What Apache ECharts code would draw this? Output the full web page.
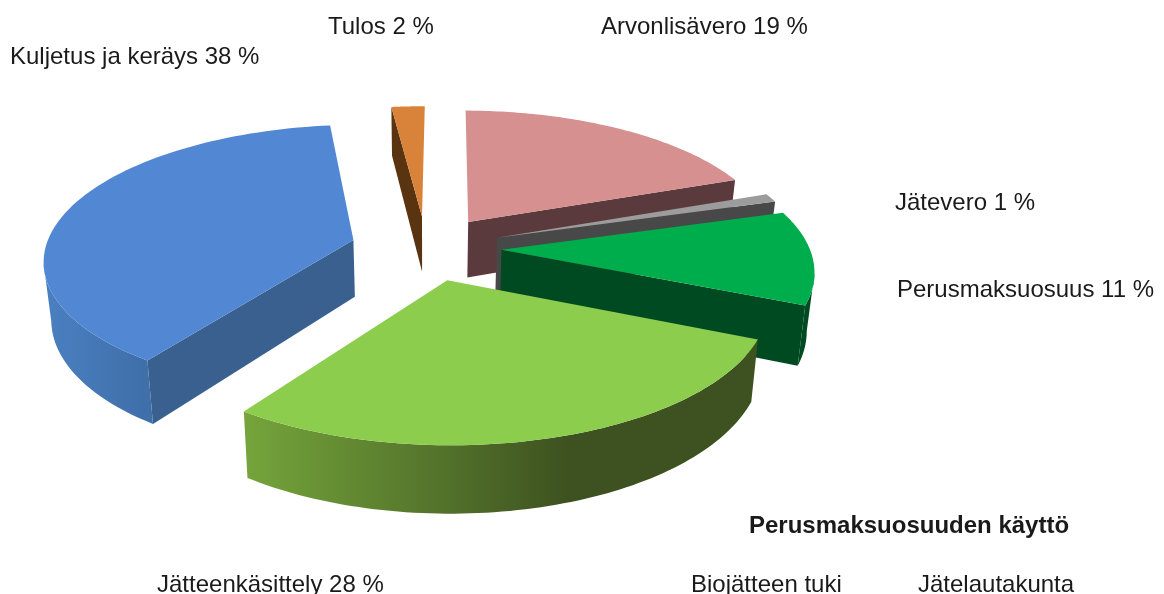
<!DOCTYPE html>
<html>
<head>
<meta charset="utf-8">
<style>
  html, body { margin: 0; padding: 0; background: #fff; overflow: hidden; }
  #chart { width: 1164px; height: 594px; }
</style>
<script src="https://cdn.jsdelivr.net/npm/echarts@6/dist/echarts.min.js"></script>
</head>
<body>
<div id="chart"></div>
<script>
const sliceNames = ['Arvonlisävero', 'Jätevero', 'Perusmaksuosuus', 'Jätteenkäsittely', 'Kuljetus ja keräys', 'Tulos']
const sliceValues = [19, 1, 11, 28, 38, 2]
const usageTitle = 'Perusmaksuosuuden käyttö'
const usageItems = ['Biojätteen tuki', 'Jätelautakunta']

const topColors = ['#d69090', '#9c9c9c', '#00ad4c', '#8dcd4e', '#5288d3', '#d9833a']
const cutColors = ['#5a3a3c', '#484848', '#004a22', '#3d5220', '#3a608f', '#5a3310']
const wallColors = [
  [[0, '#5a3a3c'], [1, '#5a3a3c']],
  [[0, '#484848'], [1, '#484848']],
  [[0, '#004a22'], [1, '#004a22']],
  [[0, '#75a53b'], [0.63, '#3d5220'], [1, '#3d5220']],
  [[0, '#4a80c1'], [1, '#3f6ea8']],
  [[0, '#5a3310'], [1, '#5a3310']],
]

// fake 3D view: disc units to screen, with a little perspective
const view = { cx: 426, cy: 248, rx: 308, ry: 133, persp: 0.135, depth: 57, bottomShrink: 0.98, explode: 0.245, startDeg: 0.5 }

const total = sliceValues.reduce((a, b) => a + b, 0)
const startAngle = (view.startDeg * Math.PI) / 180
let acc = 0
const slices = sliceValues.map((v, i) => {
  const start = startAngle + (acc / total) * Math.PI * 2
  acc += v
  const end = startAngle + (acc / total) * Math.PI * 2
  return { index: i, start, end, mid: (start + end) / 2 }
})
// back slices first so nearer ones paint over them
const drawOrder = slices.slice().sort((a, b) => Math.cos(b.mid) - Math.cos(a.mid))

function project(u, v, bottom) {
  const s = 1 / (1 + view.persp * v)
  let x = view.cx + view.rx * u * s
  let y = view.cy - view.ry * v * s
  if (bottom) {
    x = view.cx + (x - view.cx) * view.bottomShrink
    y += view.depth * s
  }
  return [x, y]
}

function renderSlice(params) {
  const slice = drawOrder[params.dataIndex]
  const ox = view.explode * Math.sin(slice.mid)
  const oy = view.explode * Math.cos(slice.mid)
  const rim = (a, bottom) => project(ox + Math.sin(a), oy + Math.cos(a), bottom)
  const apexTop = project(ox, oy, false)
  const apexBottom = project(ox, oy, true)

  const steps = 80
  const angles = []
  for (let k = 0; k <= steps; k++) angles.push(slice.start + (slice.end - slice.start) * (k / steps))
  const topArc = angles.map((a) => rim(a, false))
  const bottomArc = angles.map((a) => rim(a, true))

  const children = []
  const midPoint = rim(slice.mid, false)

  // cut faces only show when the top face lies above their edge,
  // and a nearly vertical edge has no face worth drawing
  ;[slice.start, slice.end].forEach((a) => {
    const q = rim(a, false)
    const ex = q[0] - apexTop[0]
    const ey = q[1] - apexTop[1]
    const inner = ex * (midPoint[1] - apexTop[1]) - ey * (midPoint[0] - apexTop[0])
    if (inner * ex < 0 && Math.abs(ex) > 8) {
      children.push({
        type: 'polygon',
        shape: { points: [apexTop, q, rim(a, true), apexBottom] },
        style: { fill: cutColors[slice.index] },
      })
    }
  })

  // outer wall, only the part of the rim running right to left on screen
  const upper = []
  const lower = []
  for (let k = 0; k < steps; k++) {
    if (topArc[k + 1][0] < topArc[k][0]) {
      if (!upper.length) {
        upper.push(topArc[k])
        lower.push(bottomArc[k])
      }
      upper.push(topArc[k + 1])
      lower.push(bottomArc[k + 1])
    }
  }
  if (upper.length > 1) {
    children.push({
      type: 'polygon',
      shape: { points: upper.concat(lower.slice().reverse()) },
      style: {
        fill: new echarts.graphic.LinearGradient(0, 0, 1, 0,
          wallColors[slice.index].map((s) => ({ offset: s[0], color: s[1] }))),
      },
    })
  }

  children.push({
    type: 'polygon',
    shape: { points: [apexTop].concat(topArc) },
    style: { fill: topColors[slice.index] },
  })
  return { type: 'group', children }
}

function textItem(str, left, top, bold) {
  return {
    type: 'text',
    left,
    top,
    style: {
      text: str,
      fill: '#1a1a1a',
      font: (bold ? 'bold ' : '') + '24px "Liberation Sans", Arial, sans-serif',
    },
  }
}

const sliceLabel = (i) => sliceNames[i] + ' ' + sliceValues[i] + ' %'

const chart = echarts.init(document.getElementById('chart'), null, { renderer: 'canvas' })
chart.setOption({
  animation: false,
  backgroundColor: '#ffffff',
  graphic: [
    textItem(sliceLabel(5), 328, 15),
    textItem(sliceLabel(0), 601, 15),
    textItem(sliceLabel(4), 10, 45),
    textItem(sliceLabel(1), 895, 191),
    textItem(sliceLabel(2), 897, 278),
    textItem(sliceLabel(3), 157, 573),
    textItem(usageTitle, 749, 514, true),
    textItem(usageItems[0], 691, 573),
    textItem(usageItems[1], 918, 573),
  ],
  series: [
    {
      type: 'custom',
      coordinateSystem: 'none',
      renderItem: renderSlice,
      data: drawOrder.map((s) => ({ name: sliceNames[s.index], value: sliceValues[s.index] })),
    },
  ],
})
</script>
</body>
</html>
